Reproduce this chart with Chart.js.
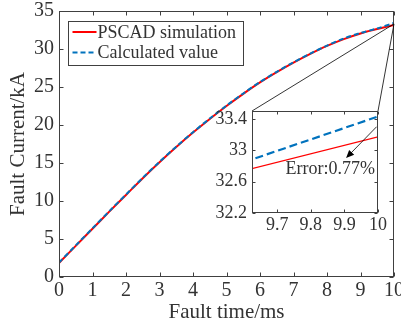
<!DOCTYPE html>
<html>
<head>
<meta charset="utf-8">
<script src="https://cdn.jsdelivr.net/npm/chart.js@4.4.0/dist/chart.umd.min.js"></script>
<style>
    html, body { margin: 0; padding: 0; background: #fff; }
    #wrap { position: relative; width: 401px; height: 331px; }
    #wrap canvas { position: absolute; left: 0; top: 0; }
    #insetChart { pointer-events: none; }
</style>
</head>
<body>
<div id="wrap">
    <canvas id="mainChart" width="401" height="331"></canvas>
    <canvas id="insetChart" width="401" height="331"></canvas>
</div>
<script>
// --- data ---
var faultTime = [0, 0.5, 1, 1.5, 2, 2.5, 3, 3.5, 4, 4.5, 5, 5.5, 6, 6.5, 7, 7.5, 8, 8.5, 9, 9.5, 10];
var pscadSim  = [1.85, 4.1, 6.35, 8.6, 10.8, 13.0, 15.1, 17.1, 19.0, 20.8, 22.5, 24.1, 25.6, 26.95, 28.2, 29.35, 30.4, 31.3, 32.05, 32.63, 33.17];
var calcValue = [1.9, 4.15, 6.4, 8.65, 10.85, 13.05, 15.15, 17.15, 19.05, 20.85, 22.55, 24.15, 25.65, 27.0, 28.25, 29.4, 30.45, 31.38, 32.1, 32.7, 33.43];
var seriesNames = ['PSCAD simulation', 'Calculated value'];

// zoomed inset
var insetXTicks = [9.7, 9.8, 9.9, 10];
var insetYTicks = [32.2, 32.6, 33, 33.4];
var insetXRange = [9.625, 10];
var insetYRange = [32.2, 33.5];
var errorLabel = 'Error:0.77%';
var arrowFrom = [9.996, 33.30];   // (time, current) in inset units
var arrowTo = [9.905, 32.90];
var labelAt = [9.725, 32.76];

var serif = '"Liberation Serif", "Times New Roman", serif';
var textColor = '#333';
var axisColor = '#404040';
var redColor = '#ff0000';
var blueColor = '#0072bd';

Chart.defaults.font.family = serif;
Chart.defaults.color = textColor;

// khung và vạch chia hướng vào trong (kiểu MATLAB)
var boxTicks = {
    id: 'boxTicks',
    afterDraw(chart, args, opts) {
        const ctx = chart.ctx, a = chart.chartArea;
        const len = opts.len || 4;
        const L = Math.round(a.left) + 0.5, R = Math.round(a.right) - 0.5;
        const T = Math.round(a.top) + 0.5, B = Math.round(a.bottom) - 0.5;
        ctx.save();
        ctx.strokeStyle = axisColor;
        ctx.lineWidth = 1;
        ctx.strokeRect(L, T, R - L, B - T);
        ctx.beginPath();
        chart.scales.x.ticks.forEach(t => {
            const px = Math.round(chart.scales.x.getPixelForValue(t.value)) + 0.5;
            ctx.moveTo(px, B); ctx.lineTo(px, B - len);
            ctx.moveTo(px, T); ctx.lineTo(px, T + len);
        });
        chart.scales.y.ticks.forEach(t => {
            const py = Math.round(chart.scales.y.getPixelForValue(t.value)) + 0.5;
            ctx.moveTo(L, py); ctx.lineTo(L + len, py);
            ctx.moveTo(R, py); ctx.lineTo(R - len, py);
        });
        ctx.stroke();
        ctx.restore();
    }
};

// legend có khung ở góc trên trái
var boxLegend = {
    id: 'boxLegend',
    afterDraw(chart) {
        const ctx = chart.ctx, a = chart.chartArea;
        const x0 = Math.round(a.left) + 9.5, y0 = Math.round(a.top) + 10.5;
        ctx.save();
        ctx.fillStyle = '#fff';
        ctx.fillRect(x0, y0, 175, 44);
        ctx.strokeStyle = axisColor;
        ctx.lineWidth = 1;
        ctx.strokeRect(x0, y0, 175, 44);
        ctx.font = '18px ' + serif;
        ctx.textBaseline = 'middle';
        chart.data.datasets.forEach((ds, i) => {
            const y = y0 + 10.5 + i * 20.5;
            ctx.strokeStyle = ds.borderColor;
            ctx.lineWidth = 2;
            ctx.setLineDash(ds.borderDash || []);
            ctx.beginPath();
            ctx.moveTo(x0 + 4, y); ctx.lineTo(x0 + 28, y);
            ctx.stroke();
            ctx.setLineDash([]);
            ctx.fillStyle = textColor;
            ctx.fillText(ds.label, x0 + 29, y + 1);
        });
        ctx.restore();
    }
};

function fixWidth(w) {
    return function (scale) { scale.width = w; scale.paddingTop = 0; scale.paddingBottom = 0; };
}
function fixHeight(h) {
    return function (scale) { scale.height = h; scale.paddingLeft = 0; scale.paddingRight = 0; };
}
function plainNum(v) { return String(+(+v).toFixed(2)); }

// === BIỂU ĐỒ CHÍNH ===
// order: đường đỏ vẽ trước, đường xanh nét đứt nằm trên
var mainChart = new Chart(document.getElementById('mainChart').getContext('2d'), {
    type: 'line',
    data: {
        labels: faultTime,
        datasets: [
            { label: seriesNames[0], data: pscadSim, borderColor: redColor, borderWidth: 2, pointRadius: 0, tension: 0.3, order: 1 },
            { label: seriesNames[1], data: calcValue, borderColor: blueColor, borderWidth: 2, borderDash: [5, 3], pointRadius: 0, tension: 0.3, order: 0 }
        ]
    },
    options: {
        responsive: false,
        animation: false,
        layout: { padding: { left: 0, top: 11, right: 7, bottom: 0 } },
        plugins: { legend: { display: false }, tooltip: { enabled: false }, boxTicks: { len: 4 } },
        scales: {
            x: {
                type: 'linear', min: 0, max: 10,
                ticks: { stepSize: 1, font: { size: 20 }, padding: 2, maxRotation: 0, callback: plainNum },
                grid: { display: false, drawTicks: false },
                border: { display: false },
                title: { display: true, text: 'Fault time/ms', font: { size: 21 }, padding: { top: 0, bottom: 6 } },
                afterFit: fixHeight(54)
            },
            y: {
                min: 0, max: 35,
                ticks: { stepSize: 5, font: { size: 20 }, padding: 5, callback: plainNum },
                grid: { display: false, drawTicks: false },
                border: { display: false },
                title: { display: true, text: 'Fault Current/kA', font: { size: 21 }, padding: { top: 6, bottom: 0 } },
                afterFit: fixWidth(59)
            }
        }
    },
    plugins: [boxTicks, boxLegend]
});

// nền trắng cho hình phóng to + đường nối + mũi tên
var insetDecor = {
    id: 'insetDecor',
    beforeDraw(chart) {
        const ctx = chart.ctx, a = chart.chartArea;
        ctx.save();
        ctx.fillStyle = '#fff';
        ctx.fillRect(a.left, a.top, a.right - a.left, a.bottom - a.top);
        // nối từ điểm cuối của đồ thị chính tới 2 góc trên
        const mx = mainChart.scales.x.getPixelForValue(faultTime[faultTime.length - 1]);
        const my = mainChart.scales.y.getPixelForValue((pscadSim[pscadSim.length - 1] + calcValue[calcValue.length - 1]) / 2);
        ctx.strokeStyle = '#000';
        ctx.lineWidth = 0.8;
        ctx.beginPath();
        ctx.moveTo(mx, my); ctx.lineTo(a.left, a.top);
        ctx.moveTo(mx, my); ctx.lineTo(a.right, a.top);
        ctx.stroke();
        ctx.restore();
    },
    afterDatasetsDraw(chart) {
        const ctx = chart.ctx, sx = chart.scales.x, sy = chart.scales.y;
        const x1 = sx.getPixelForValue(arrowFrom[0]), y1 = sy.getPixelForValue(arrowFrom[1]);
        const x2 = sx.getPixelForValue(arrowTo[0]), y2 = sy.getPixelForValue(arrowTo[1]);
        const ang = Math.atan2(y2 - y1, x2 - x1);
        ctx.save();
        ctx.strokeStyle = '#000';
        ctx.fillStyle = '#000';
        ctx.lineWidth = 0.8;
        ctx.beginPath();
        ctx.moveTo(x1, y1); ctx.lineTo(x2 - 6 * Math.cos(ang), y2 - 6 * Math.sin(ang));
        ctx.stroke();
        ctx.beginPath();
        ctx.moveTo(x2, y2);
        ctx.lineTo(x2 - 8 * Math.cos(ang) + 3.5 * Math.sin(ang), y2 - 8 * Math.sin(ang) - 3.5 * Math.cos(ang));
        ctx.lineTo(x2 - 8 * Math.cos(ang) - 3.5 * Math.sin(ang), y2 - 8 * Math.sin(ang) + 3.5 * Math.cos(ang));
        ctx.closePath();
        ctx.fill();
        ctx.font = '18px ' + serif;
        ctx.fillStyle = textColor;
        ctx.textBaseline = 'middle';
        ctx.fillText(errorLabel, sx.getPixelForValue(labelAt[0]), sy.getPixelForValue(labelAt[1]));
        ctx.restore();
    }
};

// === HÌNH PHÓNG TO ===
var insetChart = new Chart(document.getElementById('insetChart').getContext('2d'), {
    type: 'line',
    data: {
        labels: faultTime,
        datasets: [
            { label: seriesNames[0], data: pscadSim, borderColor: redColor, borderWidth: 1.2, pointRadius: 0, tension: 0, order: 1 },
            { label: seriesNames[1], data: calcValue, borderColor: blueColor, borderWidth: 2.2, borderDash: [8, 4], pointRadius: 0, tension: 0, order: 0 }
        ]
    },
    options: {
        responsive: false,
        animation: false,
        layout: { padding: { left: 0, top: 111, right: 23, bottom: 0 } },
        plugins: { legend: { display: false }, tooltip: { enabled: false }, boxTicks: { len: 3 } },
        scales: {
            x: {
                type: 'linear', min: insetXRange[0], max: insetXRange[1],
                afterBuildTicks: s => { s.ticks = insetXTicks.map(v => ({ value: v })); },
                ticks: { font: { size: 18 }, padding: 1, maxRotation: 0, autoSkip: false, callback: plainNum },
                grid: { display: false, drawTicks: false },
                border: { display: false },
                afterFit: fixHeight(118)
            },
            y: {
                min: insetYRange[0], max: insetYRange[1],
                afterBuildTicks: s => { s.ticks = insetYTicks.map(v => ({ value: v })); },
                ticks: { font: { size: 18 }, padding: 5, autoSkip: false, callback: plainNum },
                grid: { display: false, drawTicks: false },
                border: { display: false },
                afterFit: fixWidth(252)
            }
        }
    },
    plugins: [insetDecor, boxTicks]
});
</script>
</body>
</html>
